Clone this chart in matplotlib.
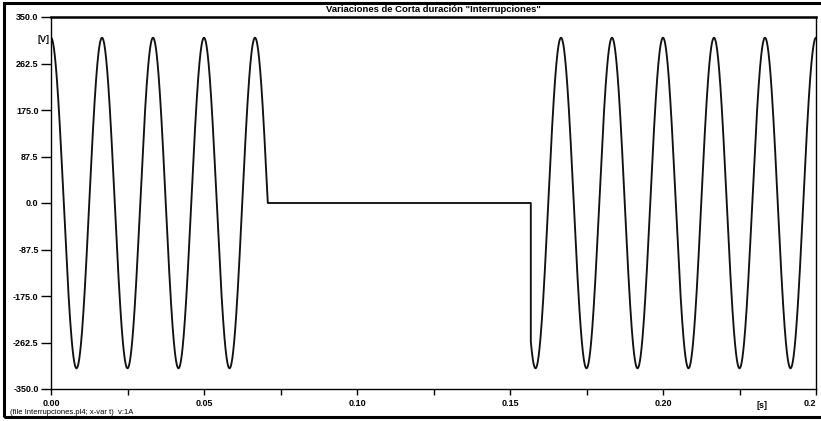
import numpy as np
import matplotlib.pyplot as plt
from matplotlib.patches import Rectangle

plt.rcParams['font.family'] = ['Liberation Sans', 'DejaVu Sans']

# signal: 60 Hz, ~311 V peak, interrupted between t_off and t_on
amplitude = 311.0
freq = 60.0
t_off = 0.0708
t_on = 0.1568
t_end = 0.25
n_samples = 5001

y_ticks = [350.0, 262.5, 175.0, 87.5, 0.0, -87.5, -175.0, -262.5, -350.0]
y_labels = ["350.0", "262.5", "175.0", "87.5", "0.0", "-87.5", "-175.0", "-262.5", "-350.0"]
x_ticks = [0.00, 0.05, 0.10, 0.15, 0.20, 0.25]
x_labels = ["0.00", "0.05", "0.10", "0.15", "0.20", "0.2"]
x_minor = [0.025, 0.075, 0.125, 0.175, 0.225]

title = 'Variaciones de Corta duración "Interrupciones"'
footer = "(file Interrupciones.pl4; x-var t)  v:1A"

t = np.linspace(0, t_end, n_samples)
v = amplitude * np.cos(2 * np.pi * freq * t)
v[(t > t_off) & (t < t_on)] = 0.0
# keep the vertical edges sharp
t = np.insert(t, np.searchsorted(t, t_on), [t_on, t_on])
v = np.insert(v, np.searchsorted(t[:-2], t_on), [0.0, amplitude * np.cos(2 * np.pi * freq * t_on)])

fig = plt.figure(figsize=(8.21, 4.21), dpi=100)
ax = fig.add_axes([51 / 821, 1 - 389 / 421, 765 / 821, 372 / 421])

ax.plot(t, v, color="#111111", lw=1.35)

ax.set_xlim(0, t_end)
ax.set_ylim(-350, 350)
ax.set_yticks(y_ticks)
ax.set_yticklabels(y_labels)
ax.set_xticks(x_ticks)
ax.set_xticklabels(x_labels)
ax.set_xticks(x_minor, minor=True)
ax.tick_params(axis="y", direction="out", length=7, width=1, labelsize=6.5, pad=2)
ax.tick_params(axis="x", direction="out", length=4, width=1, labelsize=6.5, pad=3)
ax.tick_params(axis="x", which="minor", direction="out", length=4, width=1)
for lab in ax.get_xticklabels() + ax.get_yticklabels():
    lab.set_fontweight("bold")
ax.get_xticklabels()[-1].set_horizontalalignment("right")

for s in ax.spines.values():
    s.set_linewidth(1.0)
ax.spines["top"].set_linewidth(1.8)

ax.text(-0.002, 0.94, "[V]", transform=ax.transAxes, ha="right", va="center",
        fontsize=6.5, fontweight="bold")
ax.text(0.929, -0.045, "[s]", transform=ax.transAxes, ha="center", va="center",
        fontsize=6.5, fontweight="bold")

fig.text(433 / 821, 1 - 9 / 421, title, ha="center", va="center",
         fontsize=6.8, fontweight="bold")
fig.text(10 / 821, 1 - 412 / 421, footer, ha="left", va="center", fontsize=5.5)

fig.patches.append(Rectangle((4 / 821, 1 - 417 / 421), 830 / 821, 414 / 421,
                             transform=fig.transFigure, fill=False,
                             edgecolor="black", lw=2.2))

fig.savefig("out.png", dpi=100)
